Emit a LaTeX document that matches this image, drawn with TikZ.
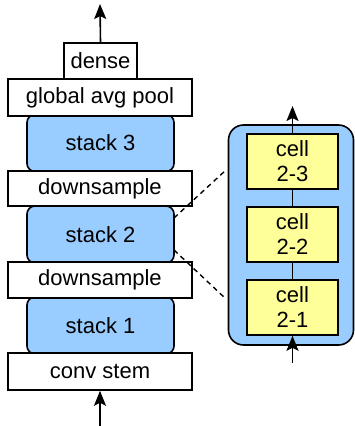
\documentclass[tikz,border=0pt]{standalone}
\usepackage{fontspec}
\setmainfont{Liberation Sans}
\usetikzlibrary{arrows.meta}
\definecolor{stackblue}{HTML}{99CCFF}
\definecolor{cellyellow}{HTML}{FFFF99}
\begin{document}
\begin{tikzpicture}[x=1pt,y=-1pt,
  every node/.style={font=\fontsize{22}{25}\selectfont, inner sep=0pt},
  layer/.style={draw, line width=1.6pt, fill=white, rectangle},
  stackbox/.style={draw, line width=1.6pt, fill=stackblue, rounded corners=8pt, rectangle},
  cellbox/.style={draw, line width=1.6pt, fill=cellyellow, rectangle, align=center},
  flow/.style={line width=1.6pt, -{Stealth[length=15pt,width=12pt,inset=3pt]}},
  link/.style={line width=1.6pt},
  zoomline/.style={line width=1.4pt, dash pattern=on 5pt off 4pt}]
\useasboundingbox (0,0) rectangle (355,426);
% left column
\node[stackbox, minimum width=147pt, minimum height=57pt] (s3) at (100.5,143) {stack 3};
\node[stackbox, minimum width=147pt, minimum height=57pt] (s2) at (100.5,234.5) {stack 2};
\node[stackbox, minimum width=147pt, minimum height=57pt] (s1) at (100.5,325.5) {stack 1};
\node[layer, minimum width=73pt, minimum height=36pt] (dense) at (100.5,61) {dense};
\node[layer, minimum width=184pt, minimum height=37pt] (gap) at (100,97.5) {global avg pool};
\node[layer, minimum width=184pt, minimum height=35pt] (ds2) at (100,188.5) {downsample};
\node[layer, minimum width=184pt, minimum height=36pt] (ds1) at (100,280) {downsample};
\node[layer, minimum width=184pt, minimum height=37pt] (stem) at (100,371.5) {conv stem};
\coordinate (outtop) at (100,4);
\coordinate (inbot) at (100,426);
\draw[flow] (dense.north) -- (outtop);
\draw[flow] (inbot) -- (stem.south);
% right panel
\node[draw, line width=1.6pt, fill=stackblue, rounded corners=15pt, minimum width=125pt, minimum height=220pt] (big) at (291,235) {};
\node[cellbox, minimum width=91pt, minimum height=55pt] (c23) at (292.5,161.5) {cell\\2-3};
\node[cellbox, minimum width=91pt, minimum height=55pt] (c22) at (292.5,234.5) {cell\\2-2};
\node[cellbox, minimum width=91pt, minimum height=55pt] (c21) at (292.5,307.5) {cell\\2-1};
\draw[link] (c21) -- (c22);
\draw[link] (c22) -- (c23);
\coordinate (rtop) at (292.5,106);
\coordinate (rbot) at (292.5,363);
\draw[flow] (c23.north) -- (rtop);
\draw[flow] (rbot) -- (c21.south);
% zoom lines
\coordinate (zu1) at (174,218);
\coordinate (zu2) at (226,170);
\coordinate (zl1) at (174,250);
\coordinate (zl2) at (226,299);
\draw[zoomline] (zu1) -- (zu2);
\draw[zoomline] (zl1) -- (zl2);
\end{tikzpicture}
\end{document}
